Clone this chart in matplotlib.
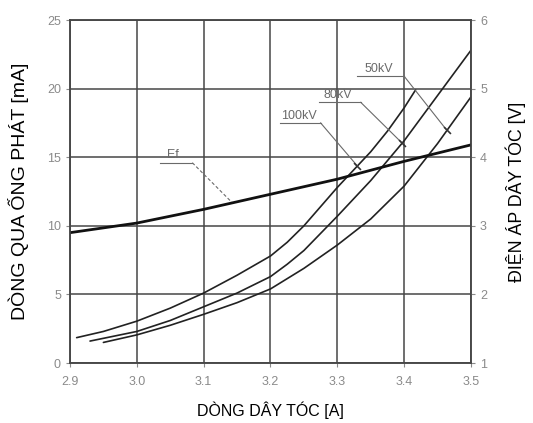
import numpy as np
import matplotlib
matplotlib.use('Agg')
import matplotlib.pyplot as plt

plt.rcParams['font.family'] = ['Liberation Sans', 'DejaVu Sans']

# filament current [A] vs tube current [mA] for three tube voltages
x_100kv = [2.91, 2.95, 3.0, 3.05, 3.1, 3.15, 3.2, 3.225, 3.25, 3.275, 3.3, 3.325, 3.35, 3.375, 3.4, 3.417]
y_100kv = [1.85, 2.3, 3.05, 4.0, 5.1, 6.4, 7.8, 8.8, 10.0, 11.4, 12.8, 14.1, 15.4, 16.9, 18.6, 19.9]

x_80kv = [2.93, 3.0, 3.05, 3.1, 3.15, 3.2, 3.225, 3.25, 3.3, 3.35, 3.4, 3.45, 3.5]
y_80kv = [1.6, 2.3, 3.1, 4.1, 5.1, 6.3, 7.2, 8.2, 10.7, 13.3, 16.2, 19.5, 22.8]

x_50kv = [2.95, 3.0, 3.05, 3.1, 3.15, 3.2, 3.25, 3.3, 3.35, 3.4, 3.45, 3.5]
y_50kv = [1.5, 2.05, 2.75, 3.55, 4.4, 5.4, 6.9, 8.6, 10.5, 12.9, 16.0, 19.4]

# filament voltage Ef [V] (right axis)
x_ef = [2.9, 3.0, 3.1, 3.2, 3.3, 3.4, 3.5]
y_ef = [2.9, 3.04, 3.24, 3.46, 3.68, 3.94, 4.18]

xticks = [2.9, 3.0, 3.1, 3.2, 3.3, 3.4, 3.5]
yticks_l = [0, 5, 10, 15, 20, 25]
yticks_r = [1, 2, 3, 4, 5, 6]

fig = plt.figure(figsize=(5.33, 4.23), dpi=100)
ax = fig.add_axes([0.1313, 0.1418, 0.7524, 0.8109])
ax2 = ax.twinx()

grid_c = '#474747'
tick_c = '#8a8a8a'
leader_c = '#6a6a6a'

ax.set_xlim(2.9, 3.5)
ax.set_ylim(0, 25)
ax2.set_ylim(1, 6)
ax.set_xticks(xticks)
ax.set_xticklabels(['%.1f' % v for v in xticks])
ax.set_yticks(yticks_l)
ax2.set_yticks(yticks_r)
ax.grid(True, color=grid_c, lw=1.1)
ax.set_axisbelow(True)

for a in (ax, ax2):
    for s in a.spines.values():
        s.set_color(grid_c)
        s.set_linewidth(1.1)
    a.tick_params(colors=tick_c, labelsize=9, length=3, width=0.8)
ax.tick_params(axis='x', pad=6)

# kV curves
for xs, ys in [(x_100kv, y_100kv), (x_80kv, y_80kv), (x_50kv, y_50kv)]:
    ax.plot(xs, ys, color='#222222', lw=1.2, solid_capstyle='round')

# Ef on right axis
ax2.plot(x_ef, y_ef, color='#111111', lw=2.0)

ax.set_xlabel('DÒNG DÂY TÓC [A]', fontsize=11.5, labelpad=10)
ax.set_ylabel('DÒNG QUA ỐNG PHÁT [mA]', fontsize=14, labelpad=13)
ax2.set_ylabel('ĐIỆN ÁP DÂY TÓC [V]', fontsize=12.8, rotation=90, labelpad=13)


def leader(text, x_txt, y_txt, x0, x1, y_line, x_end, xs, ys, dashed=False, tick=True):
    # text on an underline, then a diagonal leader down to the curve
    y_end = np.interp(x_end, xs, ys)
    ls = (0, (3, 2)) if dashed else '-'
    ax.text(x_txt, y_txt, text, fontsize=9, color=leader_c, ha='center', va='bottom')
    ax.plot([x0, x1], [y_line, y_line], color=leader_c, lw=0.8)
    ax.plot([x1, x_end], [y_line, y_end], color=leader_c, lw=0.8, ls=ls)
    if tick:
        ax.plot([x_end], [y_end], marker=(2, 0, 45), ms=7, mew=1.2, color='#333333')


ef_mA = [(v - 1) * 5 for v in y_ef]
leader('Ef', 3.054, 14.7, 3.035, 3.083, 14.6, 3.143, x_ef, ef_mA, dashed=True, tick=False)
leader('100kV', 3.243, 17.6, 3.214, 3.275, 17.5, 3.33, x_100kv, y_100kv)
leader('80kV', 3.300, 19.1, 3.272, 3.335, 19.0, 3.397, x_80kv, y_80kv)
leader('50kV', 3.362, 21.0, 3.330, 3.400, 20.9, 3.464, x_50kv, y_50kv)

fig.savefig('out.png', dpi=100)
